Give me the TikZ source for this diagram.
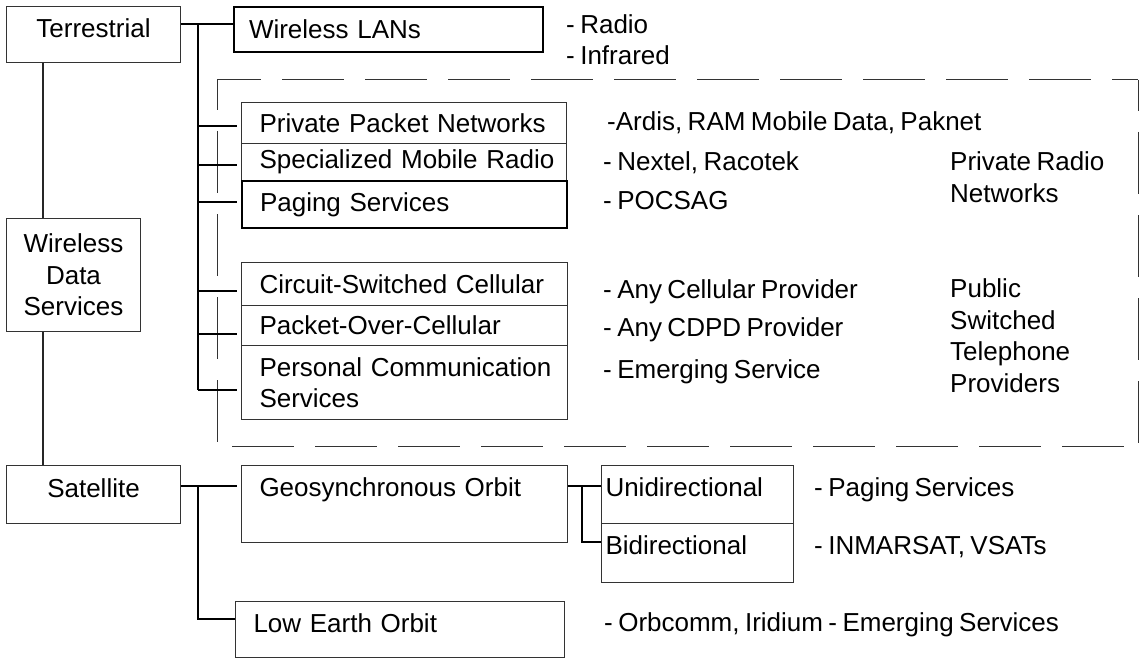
\documentclass[tikz,border=0pt]{standalone}
\usepackage{fontspec}
\setmainfont{Liberation Sans}[WordSpace=0.75]
\begin{document}
\begin{tikzpicture}[x=1pt,y=-1pt,
  font=\fontsize{26}{31.5}\selectfont,
  box/.style={draw=black!80, line width=1pt, inner xsep=0pt, inner ysep=0pt, anchor=north west},
  thickbox/.style={box, draw=black, line width=2pt},
  rowbox/.style={inner xsep=18pt, text width=289pt, align=left},
  conn/.style={draw=black, line width=2pt},
  thinconn/.style={draw=black, line width=1.2pt},
  vline/.style={draw=black!85, line width=1.6pt},
  dsh/.style={draw=black!80, line width=1pt, dash pattern=on 62pt off 21pt},
  lbl/.style={inner sep=0pt, anchor=base west, align=left}]
\useasboundingbox[fill=white] (0,0) rectangle (1143,658);

% left column
\node[box, minimum width=174pt, minimum height=56pt, text height=18pt, text depth=12pt] (terr) at (6,6) {Terrestrial};
\node[box, minimum width=134pt, minimum height=113pt, align=center] (wds) at (6,218) {Wireless\\Data\\Services};
\node[box, minimum width=174pt, minimum height=58pt, text height=18pt, text depth=12pt] (sat) at (6,465) {Satellite};

% terrestrial branch
\node[thickbox, minimum width=309pt, minimum height=45pt, inner xsep=15pt, text width=279pt, align=left] (wlan) at (233,6) {Wireless LANs};
\node[box, rowbox, minimum height=41pt] (ppn) at (241,102) {\mbox{Private Packet Networks}};
\node[box, rowbox, minimum height=37pt] (smr) at (241,143) {\mbox{Specialized Mobile Radio}};
\node[thickbox, rowbox, minimum height=47pt] (pag) at (241,180) {\mbox{Paging Services}};
\node[box, rowbox, text width=290pt, minimum height=43pt] (csc) at (241,262) {\mbox{Circuit-Switched Cellular}};
\node[box, rowbox, text width=290pt, minimum height=40pt] (poc) at (241,305) {\mbox{Packet-Over-Cellular}};
\node[box, rowbox, text width=290pt, minimum height=74pt] (pcs) at (241,345) {\mbox{Personal Communication}\\Services};

% satellite branch
\node[box, rowbox, text width=290pt, minimum height=77pt, text height=18pt, text depth=33pt] (geo) at (241,465) {\mbox{Geosynchronous Orbit}};
\node[box, rowbox, text width=293pt, minimum height=56pt, text height=18pt, text depth=12pt] (leo) at (235,601) {\mbox{Low Earth Orbit}};
\node[box, inner xsep=4pt, text width=184pt, align=left, minimum height=58pt, text height=18pt, text depth=14pt] (uni) at (601,465) {Unidirectional};
\node[box, inner xsep=4pt, text width=184pt, align=left, minimum height=59pt, text height=18pt, text depth=15pt] (bi) at (601,523) {Bidirectional};

% labels (base anchor = baseline of the last line)
\node[lbl] (lradio) at (566,65) {- Radio\\- Infrared};
\node[lbl] (lardis) at (607,131) {-Ardis, RAM Mobile Data, Paknet};
\node[lbl] (lnextel) at (603,171) {- Nextel, Racotek};
\node[lbl] (lpocsag) at (603,209) {- POCSAG};
\node[lbl] (lprn) at (950,202) {Private Radio\\Networks};
\node[lbl] (lcell) at (603,298) {- Any Cellular Provider};
\node[lbl] (lcdpd) at (603,336) {- Any CDPD Provider};
\node[lbl] (lemerg) at (603,378) {- Emerging Service};
\node[lbl] (lpstp) at (950,392) {Public\\Switched\\Telephone\\Providers};
\node[lbl] (lpage) at (814,496) {- Paging Services};
\node[lbl] (linm) at (814,554) {- INMARSAT, VSATs};
\node[lbl] (lorb) at (604,631) {- Orbcomm, Iridium - Emerging Services};

% dashed frame
\draw[dsh, dash phase=18pt] (217,80) -- (1138,80);
\draw[dsh, dash phase=32pt] (217,80) -- (217,446);
\draw[dsh, dash phase=31pt] (1138,80) -- (1138,446);
\draw[dsh, dash phase=68pt] (217,446) -- (1138,446);

% main vertical links
\draw[vline] (43,0 |- terr.south) -- (43,0 |- wds.north);
\draw[vline] (43,0 |- wds.south) -- (43,0 |- sat.north);

% terrestrial connectors
\coordinate (tbus) at (198,24);
\draw[conn] (terr.east |- tbus) -- (wlan.west |- tbus);
\draw[conn] (tbus) -- (198,390);
\foreach \n/\yy in {ppn/126, smr/165, csc/291, poc/334, pcs/390}
  \draw[conn, shorten >=4pt] (198,\yy) -- (\n.west |- 0,\yy);
\draw[thinconn, shorten >=4pt] (198,202) -- (pag.west |- 0,202);

% satellite connectors
\coordinate (sbus) at (198,486);
\draw[conn, shorten >=4pt] (sat.east |- sbus) -- (geo.west |- sbus);
\draw[conn] (sbus) -- (198,619) -- (leo.west |- 0,619);
\coordinate (gbus) at (582,486);
\draw[conn] (geo.east |- gbus) -- (uni.west |- gbus);
\draw[conn] (gbus) -- (582,542) -- (bi.west |- 0,542);
\end{tikzpicture}
\end{document}
